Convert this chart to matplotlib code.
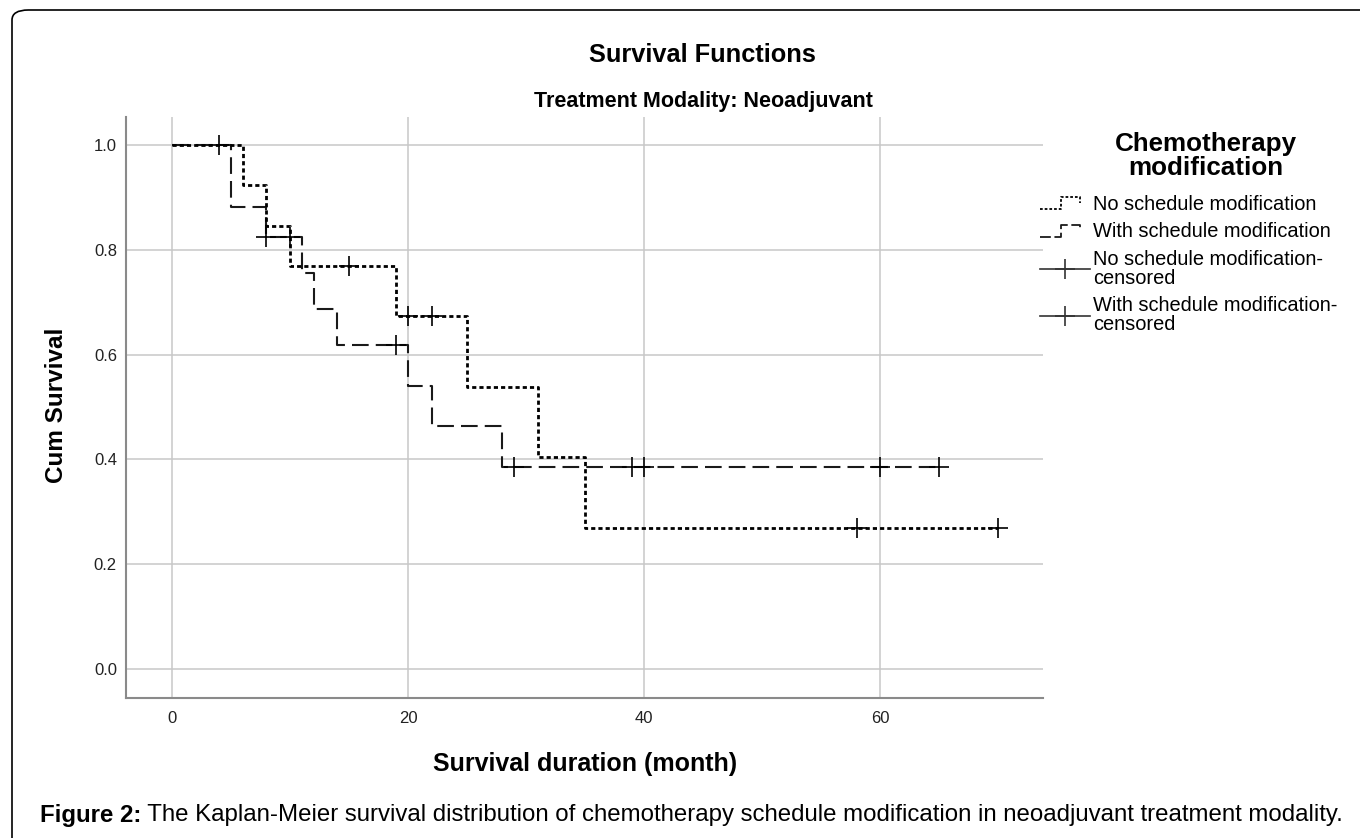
import numpy as np
import matplotlib
matplotlib.use('Agg')
import matplotlib.pyplot as plt
from matplotlib.lines import Line2D
from matplotlib.legend_handler import HandlerLine2D
from matplotlib.patches import FancyBboxPatch

plt.rcParams['font.family'] = ['Liberation Sans', 'DejaVu Sans']

# Kaplan-Meier steps (time in months, cumulative survival)
no_mod_times = [0, 6, 8, 10, 19, 25, 31, 35]
no_mod_surv = [1.0, 0.923, 0.846, 0.769, 0.673, 0.538, 0.404, 0.269]
no_mod_end = 70
no_mod_censor_t = [15, 20, 22, 58, 70]

with_mod_times = [0, 5, 8, 11, 12, 14, 20, 22, 28]
with_mod_surv = [1.0, 0.882, 0.824, 0.756, 0.686, 0.618, 0.540, 0.464, 0.386]
with_mod_end = 65
with_mod_censor_t = [4, 8, 10, 19, 29, 39, 40, 60, 65]

x_ticks = [0, 20, 40, 60]
y_ticks = [0.0, 0.2, 0.4, 0.6, 0.8, 1.0]

legend_labels = ['No schedule modification',
                 'With schedule modification',
                 'No schedule modification-\ncensored',
                 'With schedule modification-\ncensored']


def surv_at(times, surv, t):
    # value of the step function at time t (right-continuous)
    idx = np.searchsorted(times, t, side='right') - 1
    return np.asarray(surv)[idx]


class HandlerStep(HandlerLine2D):
    # small step icon like the SPSS legend
    def create_artists(self, legend, orig_handle, xdescent, ydescent,
                       width, height, fontsize, trans):
        x0, y0 = -xdescent, -ydescent
        xs = [x0, x0 + 0.42 * width, x0 + 0.42 * width, x0 + 0.8 * width, x0 + 0.8 * width]
        ys = [y0 + 0.05 * height, y0 + 0.05 * height, y0 + 0.9 * height,
              y0 + 0.9 * height, y0 + 0.5 * height]
        line = Line2D(xs, ys)
        self.update_prop(line, orig_handle, legend)
        line.set_transform(trans)
        return [line]


W, H = 1360, 838
fig = plt.figure(figsize=(W / 100, H / 100), dpi=100)

ax = fig.add_axes([126 / W, 1 - 698 / H, (1043 - 126) / W, (698 - 117) / H])

dotted = (0, (1.5, 1.1))
dashed = (0, (8, 3.4))

# with schedule modification (dashed)
ax.step(with_mod_times + [with_mod_end], with_mod_surv + [with_mod_surv[-1]],
        where='post', color='#1a1a1a', lw=1.5, linestyle=dashed, dash_capstyle='butt', zorder=3)
# no schedule modification (dotted)
ax.step(no_mod_times + [no_mod_end], no_mod_surv + [no_mod_surv[-1]],
        where='post', color='black', lw=2.0, linestyle=dotted, dash_capstyle='butt', zorder=4)

# censored marks
ax.plot(no_mod_censor_t, surv_at(no_mod_times, no_mod_surv, no_mod_censor_t),
        linestyle='none', marker='+', ms=14, mew=1.2, color='black', zorder=5)
ax.plot(with_mod_censor_t, surv_at(with_mod_times, with_mod_surv, with_mod_censor_t),
        linestyle='none', marker='+', ms=14, mew=1.2, color='black', zorder=5)

ax.set_xlim(-3.9, 73.8)
ax.set_ylim(-0.055, 1.053)
ax.set_xticks(x_ticks)
ax.set_yticks(y_ticks)
ax.set_yticklabels([f'{v:.1f}' for v in y_ticks])
ax.tick_params(axis='both', length=0, labelsize=12, colors='#222222')
ax.tick_params(axis='x', pad=9.5)
ax.tick_params(axis='y', pad=6.5)
ax.grid(True, color='#c8c8c8', lw=1.1)
ax.set_axisbelow(True)
for side in ['top', 'right']:
    ax.spines[side].set_visible(False)
for side in ['left', 'bottom']:
    ax.spines[side].set_color('#8a8a8a')
    ax.spines[side].set_linewidth(1.5)

# titles and axis labels
fig.text(702 / W, 1 - 55 / H, 'Survival Functions', ha='center', va='center',
         fontsize=18.3, fontweight='bold')
fig.text(703 / W, 1 - 101 / H, 'Treatment Modality: Neoadjuvant', ha='center', va='center',
         fontsize=15.5, fontweight='bold')
fig.text(585 / W, 1 - 764 / H, 'Survival duration (month)', ha='center', va='center',
         fontsize=18, fontweight='bold')
fig.text(57 / W, 1 - 405 / H, 'Cum Survival', ha='center', va='center', rotation=90,
         fontsize=17.5, fontweight='bold')

# legend
fig.text(1206 / W, 1 - 156 / H, 'Chemotherapy\nmodification', ha='center', va='center',
         fontsize=18.7, fontweight='bold', linespacing=0.98, multialignment='center')

h_no = Line2D([], [], color='black', lw=1.3, linestyle=(0, (1.5, 1.1)))
h_with = Line2D([], [], color='#1a1a1a', lw=1.3, linestyle=(0, (6, 2)))
h_no_c = Line2D([], [], color='#333333', lw=1.2, marker='+', ms=14, mew=1.2)
h_with_c = Line2D([], [], color='#333333', lw=1.2, marker='+', ms=14, mew=1.2)
leg = fig.legend([h_no, h_with, h_no_c, h_with_c], legend_labels,
                 loc='upper left', bbox_to_anchor=(1040 / W, 1 - 195 / H),
                 frameon=False, borderpad=0, borderaxespad=0, handlelength=2.5,
                 handletextpad=0.15, labelspacing=0.42, fontsize=14.4,
                 handler_map={h_no: HandlerStep(), h_with: HandlerStep()})
for t in leg.get_texts():
    t.set_linespacing(1.0)

# caption
cap_y = 1 - 815 / H
t1 = fig.text(40 / W, cap_y, 'Figure 2:', ha='left', va='center', fontsize=17.3, fontweight='bold')
fig.canvas.draw()
bb = t1.get_window_extent(renderer=fig.canvas.get_renderer())
fig.text(bb.x1 / W, cap_y,
         ' The Kaplan-Meier survival distribution of chemotherapy schedule modification '
         'in neoadjuvant treatment modality.',
         ha='left', va='center', fontsize=17.3)

# rounded frame around the figure
frame = FancyBboxPatch((12 / W, -0.1), 1.2, (1 - 10 / H) + 0.1,
                       boxstyle='round,pad=0,rounding_size=0.012',
                       transform=fig.transFigure, fill=False, ec='black', lw=1.2,
                       clip_on=False)
fig.add_artist(frame)

fig.savefig('out.png', dpi=100)
